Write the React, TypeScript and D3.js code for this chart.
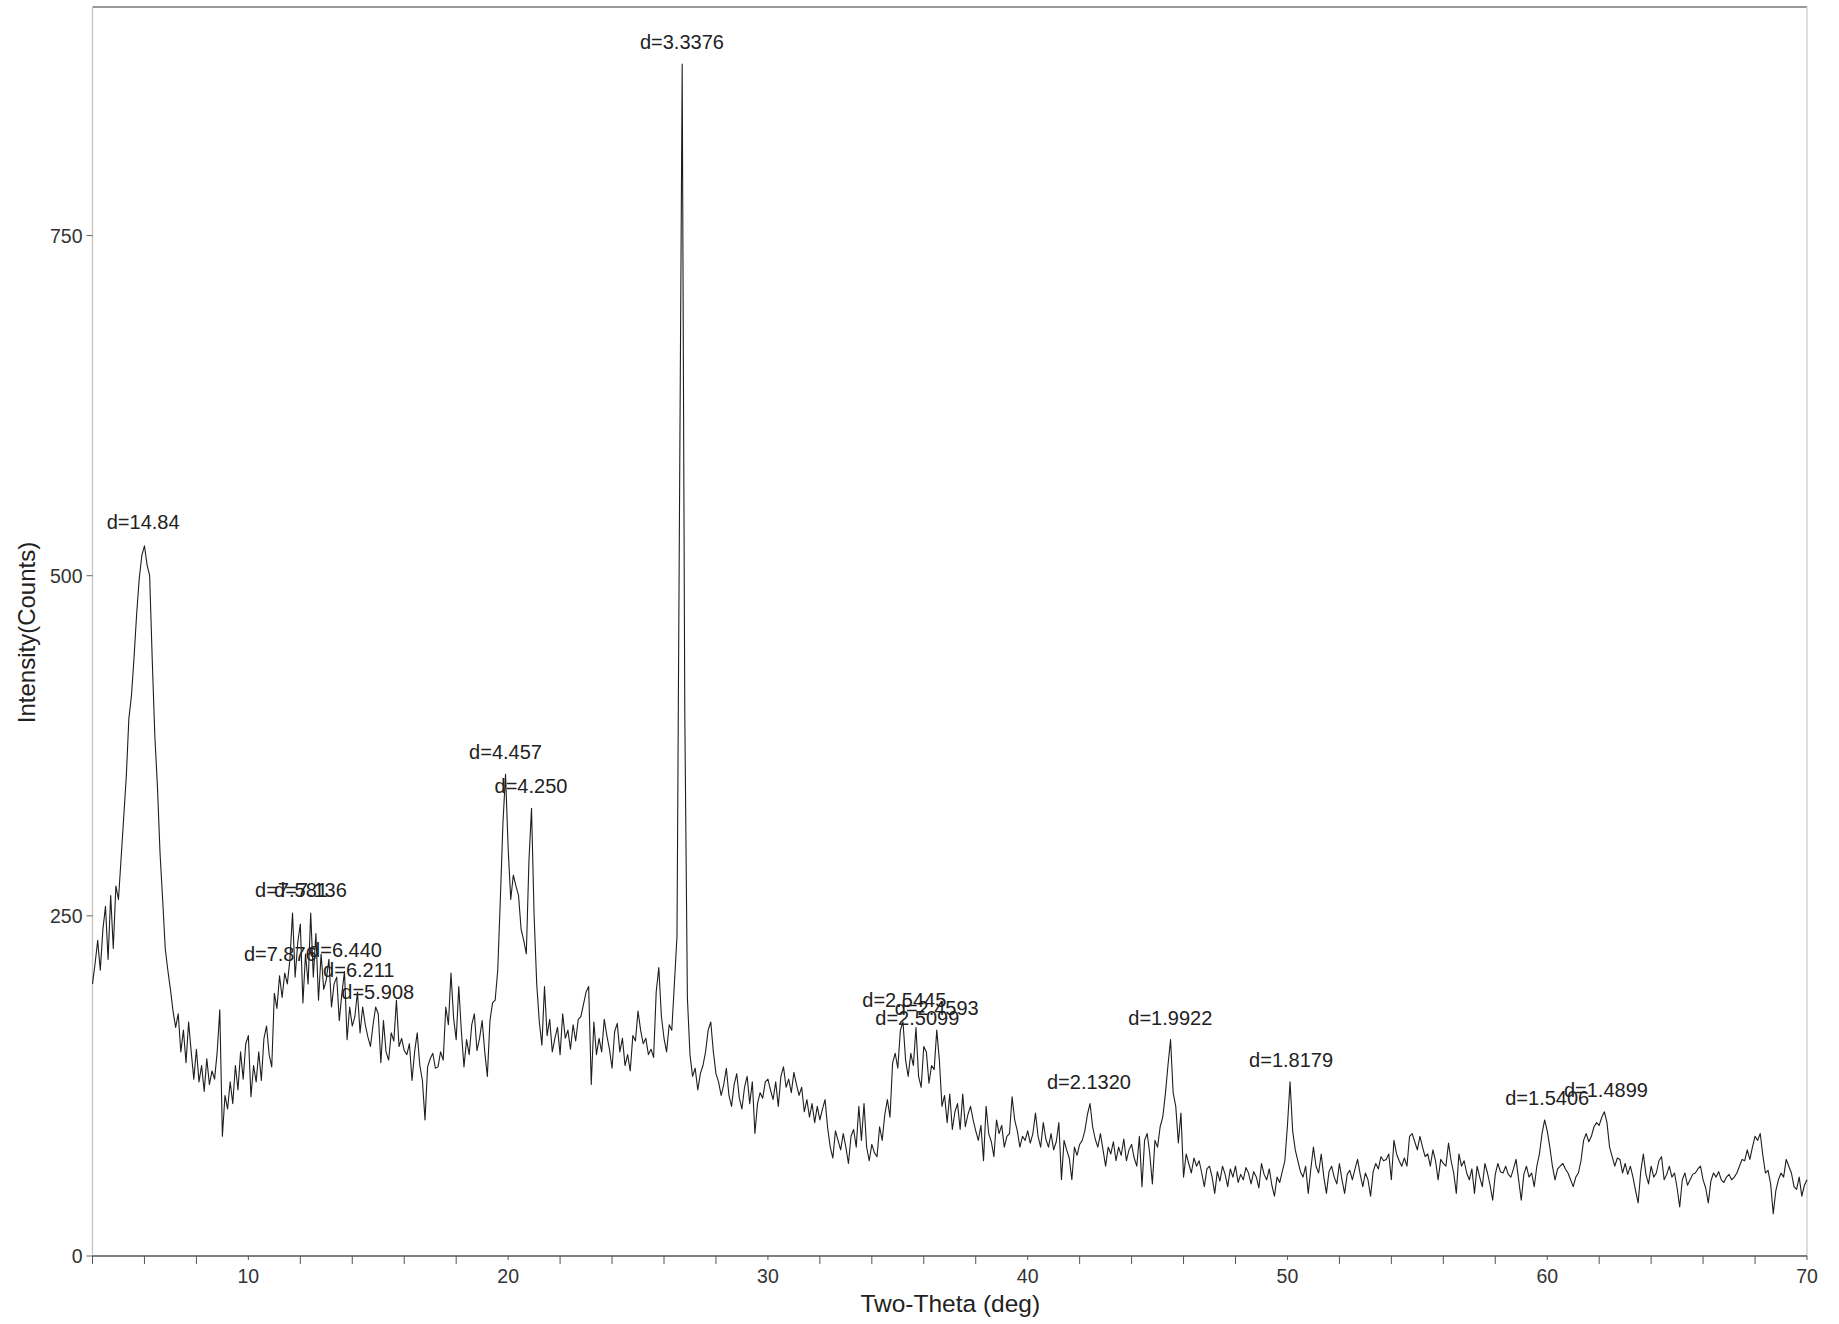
import React from 'react'
import { scaleLinear, line, range } from 'd3'

// intensity (counts) sampled every 0.1 deg two-theta, one array per decade
const seg04to10 = [
  200, 215, 232, 210, 240, 257, 218, 265, 226, 272,
  262, 292, 322, 352, 395, 412, 440, 472, 498, 515,
  522, 508, 500, 438, 382, 345, 296, 262, 226, 210,
  196, 180, 168, 178, 150, 166, 142, 172, 150, 130,
  152, 128, 140, 121, 145, 126, 136, 130, 150, 181,
  88, 118, 108, 128, 112, 140, 122, 150, 130, 156,
  162
]
const seg10to20 = [
  117, 140, 128, 150, 129, 160, 169, 148, 139, 193,
  182, 206, 190, 208, 200, 218, 252, 205, 230, 244,
  186, 222, 200, 252, 205, 237, 188, 222, 196, 203,
  218, 183, 200, 205, 173, 193, 209, 159, 183, 169,
  176, 194, 164, 183, 170, 161, 154, 170, 183, 178,
  142, 173, 150, 144, 164, 158, 188, 154, 160, 151,
  148, 156, 129, 150, 164, 140, 129, 100, 139, 145,
  149, 138, 139, 150, 144, 183, 170, 208, 175, 159,
  198, 165, 139, 159, 148, 170, 178, 151, 160, 173,
  150, 132, 173, 186, 188, 210, 262, 318, 354, 300
]
const seg20to30 = [
  262, 280, 272, 265, 240, 232, 222, 290, 329, 250,
  200, 172, 155, 198, 162, 174, 150, 160, 168, 148,
  178, 160, 166, 152, 170, 158, 174, 176, 185, 194,
  198, 126, 172, 148, 160, 150, 174, 162, 152, 138,
  165, 171, 150, 160, 140, 148, 136, 162, 158, 180,
  166, 156, 160, 148, 152, 146, 194, 212, 176, 160,
  150, 170, 166, 200, 235, 560, 876, 400, 190, 148,
  132, 138, 122, 134, 140, 150, 166, 172, 150, 134,
  128, 118, 126, 138, 118, 110, 126, 134, 116, 108,
  124, 132, 112, 128, 90, 112, 120, 116, 128, 130
]
const seg30to40 = [
  122, 115, 128, 110, 132, 139, 124, 130, 120, 135,
  126, 118, 124, 106, 115, 102, 112, 98, 110, 100,
  108, 115, 94, 80, 72, 92, 85, 78, 90, 80,
  68, 88, 93, 80, 110, 85, 112, 80, 70, 82,
  76, 73, 95, 85, 104, 115, 102, 142, 149, 138,
  166, 172, 144, 132, 149, 140, 168, 132, 124, 154,
  150, 127, 140, 137, 166, 144, 110, 118, 98, 119,
  93, 106, 112, 93, 119, 95, 104, 110, 100, 92,
  85, 96, 70, 110, 90, 84, 73, 100, 90, 96,
  80, 88, 90, 117, 100, 92, 80, 88, 85, 92
]
const seg40to50 = [
  83, 90, 105, 88, 80, 98, 86, 80, 90, 78,
  84, 98, 56, 85, 78, 72, 56, 80, 74, 82,
  85, 92, 104, 112, 95, 86, 80, 90, 78, 66,
  80, 75, 84, 70, 80, 74, 86, 70, 78, 82,
  72, 66, 88, 51, 85, 90, 75, 53, 85, 80,
  95, 102, 119, 140, 159, 120, 110, 83, 105, 58,
  75, 68, 61, 72, 66, 70, 61, 51, 64, 66,
  58, 46, 62, 55, 66, 60, 51, 64, 58, 66,
  54, 60, 56, 65, 61, 53, 62, 58, 50, 68,
  60, 56, 64, 52, 44, 58, 54, 62, 70, 96
]
const seg50to60 = [
  128, 92, 78, 70, 62, 58, 66, 46, 64, 80,
  66, 61, 75, 58, 46, 62, 66, 58, 53, 68,
  56, 46, 60, 63, 56, 64, 71, 60, 51, 61,
  56, 44, 62, 68, 64, 73, 70, 71, 75, 56,
  85, 75, 70, 66, 72, 66, 88, 90, 84, 78,
  88, 80, 73, 75, 66, 78, 70, 56, 71, 68,
  66, 83, 70, 61, 46, 75, 66, 70, 61, 56,
  64, 46, 66, 58, 51, 68, 61, 52, 41, 60,
  68, 62, 61, 66, 60, 58, 64, 71, 56, 41,
  60, 66, 58, 61, 51, 66, 75, 90, 100, 92
]
const seg60to70 = [
  80, 66, 56, 64, 66, 68, 64, 61, 56, 51,
  58, 61, 70, 85, 90, 84, 88, 95, 98, 96,
  102, 106, 98, 80, 73, 66, 72, 71, 61, 68,
  60, 66, 58, 48, 39, 62, 75, 60, 53, 66,
  58, 61, 70, 73, 56, 60, 66, 58, 61, 50,
  36, 56, 61, 52, 56, 60, 61, 64, 66, 56,
  50, 39, 55, 61, 58, 62, 56, 54, 58, 60,
  56, 58, 61, 66, 71, 70, 78, 71, 80, 88,
  85, 90, 74, 61, 63, 53, 31, 48, 56, 61,
  58, 71, 66, 61, 51, 49, 58, 44, 52, 56
]

const peakLabels = ['d=14.84', 'd=7.876', 'd=7.581', 'd=7.136', 'd=6.440', 'd=6.211', 'd=5.908',
  'd=4.457', 'd=4.250', 'd=3.3376', 'd=2.5445', 'd=2.5099', 'd=2.4593', 'd=2.1320',
  'd=1.9922', 'd=1.8179', 'd=1.5406', 'd=1.4899']
const peakTheta = [5.95, 11.23, 11.66, 12.39, 13.74, 14.25, 14.98, 19.9, 20.88, 26.69,
  35.25, 35.75, 36.5, 42.36, 45.49, 50.14, 60.0, 62.26]
const peakCounts = [523, 206, 253, 253, 209, 194, 178, 354, 329, 876, 172, 159, 166, 112, 159, 128, 100, 106]

const xTickLabels = [10, 20, 30, 40, 50, 60, 70]
const yTickLabels = [0, 250, 500, 750]

const W = 1839
const H = 1324
const margin = { top: 7, right: 32, bottom: 68, left: 92.5 }
const FONT = 'Arial, "Liberation Sans", Helvetica, sans-serif'

type Pt = { t: number, c: number }

function buildSeries(): Pt[] {
  const pts: Pt[] = []
  const push = (start: number, arr: number[]) => {
    arr.forEach((c, i) => pts.push({ t: Math.round((start + i * 0.1) * 10) / 10, c }))
  }
  push(4.0, seg04to10)
  push(10.1, seg10to20)
  push(20.1, seg20to30)
  push(30.1, seg30to40)
  push(40.1, seg40to50)
  push(50.1, seg50to60)
  push(60.1, seg60to70)
  return pts
}

export default function App() {
  const data = buildSeries()
  const x0 = margin.left
  const x1 = W - margin.right
  const y0 = H - margin.bottom
  const y1 = margin.top

  const x = scaleLinear().domain([4, 70]).range([x0, x1])
  const y = scaleLinear().domain([0, 918]).range([y0, y1])

  const path = line<Pt>()
    .x(d => x(d.t))
    .y(d => y(d.c))(data)

  const minorTicks = range(4, 70.01, 2)

  return (
    <svg width={W} height={H} style={{ position: 'absolute', left: 0, top: 0, background: '#fff' }}
      fontFamily={FONT}>
      {/* frame */}
      <line x1={x0} x2={x1} y1={y1} y2={y1} stroke="#777" strokeWidth={1.5} />
      <line x1={x1} x2={x1} y1={y1} y2={y0} stroke="#c8c8c8" strokeWidth={1.2} />
      <line x1={x0} x2={x0} y1={y1} y2={y0} stroke="#c4c4c4" strokeWidth={1.3} />
      <line x1={x0} x2={x1} y1={y0} y2={y0} stroke="#555" strokeWidth={1.4} />

      {/* x ticks */}
      {minorTicks.map(t => (
        <line key={'mx' + t} x1={x(t)} x2={x(t)} y1={y0} y2={y0 + (t % 10 === 0 ? 4 : 8)}
          stroke="#555" strokeWidth={1} />
      ))}
      {xTickLabels.map(t => (
        <text key={'xl' + t} x={x(t)} y={y0 + 27} textAnchor="middle" fontSize={19.5} fill="#333">{t}</text>
      ))}

      {/* y ticks */}
      {yTickLabels.map(v => (
        <g key={'yl' + v}>
          <line x1={x0 - 6} x2={x0} y1={y(v)} y2={y(v)} stroke="#666" strokeWidth={1} />
          <text x={x0 - 10} y={y(v)} dy="0.36em" textAnchor="end" fontSize={19.5} fill="#333">{v}</text>
        </g>
      ))}

      {/* axis titles */}
      <text x={(x0 + x1) / 2 + 0.5} y={1312} textAnchor="middle" fontSize={24.5} fill="#222">Two-Theta (deg)</text>
      <text transform={`translate(35,${(y0 + y1) / 2 + 1}) rotate(-90)`} textAnchor="middle" fontSize={24}
        fill="#222">Intensity(Counts)</text>

      {/* pattern */}
      <path d={path || ''} fill="none" stroke="#1e1e1e" strokeWidth={1.1} strokeLinejoin="round" />

      {/* peak labels */}
      {peakLabels.map((lab, i) => (
        <text key={lab} x={x(peakTheta[i])} y={y(peakCounts[i]) - 15} textAnchor="middle"
          fontSize={20} fill="#222">{lab}</text>
      ))}
    </svg>
  )
}
